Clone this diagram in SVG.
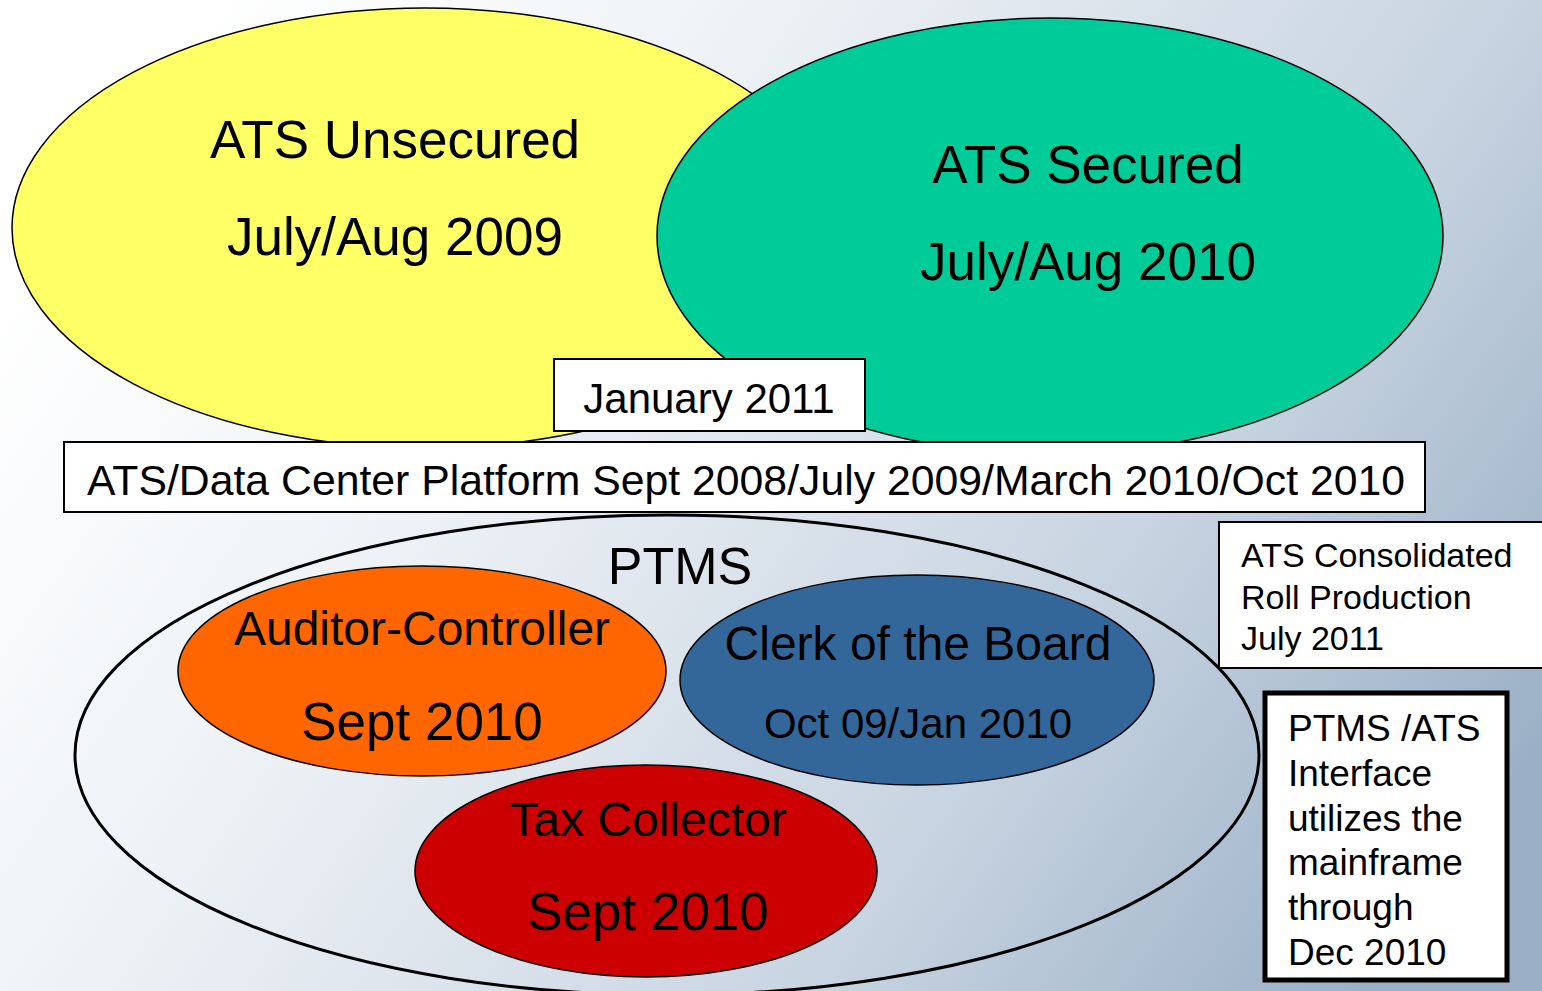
<svg xmlns="http://www.w3.org/2000/svg" width="1542" height="991" viewBox="0 0 1542 991">
<defs>
<linearGradient id="bg" x1="0" y1="0.3" x2="1" y2="0.75">
<stop offset="0" stop-color="#ffffff"/>
<stop offset="0.3" stop-color="#eef2f6"/>
<stop offset="0.7" stop-color="#c8d4e1"/>
<stop offset="1" stop-color="#9bb0c6"/>
</linearGradient>
<style>
text{font-family:"Liberation Sans",Arial,sans-serif;fill:#000}
.e{stroke:#000;stroke-width:1.5}
.box{fill:#fff;stroke:#000;stroke-width:2}
</style>
</defs>
<rect width="1542" height="991" fill="url(#bg)"/>
<g id="ats-unsecured">
<ellipse class="e" cx="425" cy="228" rx="413" ry="220" fill="#ffff66"/>
<text x="395" y="158" font-size="53" text-anchor="middle">ATS Unsecured</text>
<text x="395" y="255" font-size="53" text-anchor="middle">July/Aug 2009</text>
</g>
<g id="ats-secured">
<ellipse class="e" cx="1050" cy="236" rx="393" ry="218" fill="#00cc99"/>
<text x="1088" y="183" font-size="53" text-anchor="middle">ATS Secured</text>
<text x="1088" y="280" font-size="53" text-anchor="middle">July/Aug 2010</text>
</g>
<g id="january-2011">
<rect class="box" x="554" y="359" width="311" height="72"/>
<text x="709" y="413" font-size="42" text-anchor="middle">January 2011</text>
</g>
<g id="platform">
<rect class="box" x="64" y="442" width="1361" height="70"/>
<text x="746" y="495" font-size="42" text-anchor="middle" textLength="1318" lengthAdjust="spacingAndGlyphs">ATS/Data Center Platform Sept 2008/July 2009/March 2010/Oct 2010</text>
</g>
<g id="ptms">
<ellipse cx="667" cy="755" rx="592" ry="240" fill="none" stroke="#000" stroke-width="3"/>
<text x="680" y="584" font-size="52" text-anchor="middle">PTMS</text>
</g>
<g id="auditor-controller">
<ellipse class="e" cx="422" cy="671" rx="244" ry="105" fill="#ff6600"/>
<text x="422" y="645" font-size="48" text-anchor="middle">Auditor-Controller</text>
<text x="422" y="740" font-size="53" text-anchor="middle">Sept 2010</text>
</g>
<g id="clerk-of-the-board">
<ellipse class="e" cx="917" cy="680" rx="237" ry="105" fill="#336699"/>
<text x="918" y="660" font-size="48" text-anchor="middle">Clerk of the Board</text>
<text x="918" y="738" font-size="42" text-anchor="middle">Oct 09/Jan 2010</text>
</g>
<g id="tax-collector">
<ellipse class="e" cx="646" cy="871" rx="231" ry="106" fill="#cc0000"/>
<text x="648" y="836" font-size="48" text-anchor="middle">Tax Collector</text>
<text x="648" y="930" font-size="53" text-anchor="middle">Sept 2010</text>
</g>
<g id="consolidated-roll">
<rect class="box" x="1219" y="522" width="330" height="146"/>
<text x="1241" y="567" font-size="34">ATS Consolidated</text>
<text x="1241" y="609" font-size="34">Roll Production</text>
<text x="1241" y="650" font-size="34">July 2011</text>
</g>
<g id="interface-note">
<rect x="1265" y="693" width="242" height="287" fill="#fff" stroke="#000" stroke-width="5"/>
<text x="1288" y="741" font-size="37">PTMS /ATS</text>
<text x="1288" y="786" font-size="37">Interface</text>
<text x="1288" y="831" font-size="37">utilizes the</text>
<text x="1288" y="875" font-size="37">mainframe</text>
<text x="1288" y="920" font-size="37">through</text>
<text x="1288" y="965" font-size="37">Dec 2010</text>
</g>
<g id="connectors"/>
</svg>
